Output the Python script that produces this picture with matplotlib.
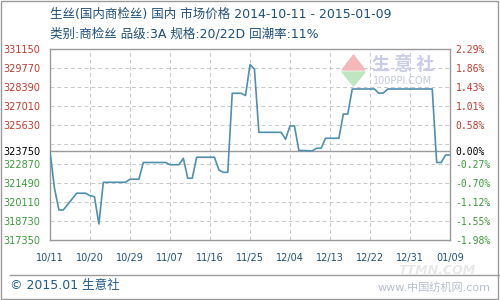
import numpy as np
import pandas as pd
import matplotlib
matplotlib.use('Agg')
import matplotlib.pyplot as plt
from matplotlib.patches import Polygon, Rectangle
from matplotlib.lines import Line2D

plt.rcParams['font.family'] = ['DejaVu Sans', 'Noto Sans CJK SC']

# 价格数据
dates = ['2014-10-11', '2014-10-12', '2014-10-13', '2014-10-14', '2014-10-17', '2014-10-19',
         '2014-10-20', '2014-10-21', '2014-10-22', '2014-10-23', '2014-10-28', '2014-10-29',
         '2014-10-31', '2014-11-01', '2014-11-06', '2014-11-07', '2014-11-09', '2014-11-10',
         '2014-11-11', '2014-11-12', '2014-11-13', '2014-11-17', '2014-11-18', '2014-11-19',
         '2014-11-20', '2014-11-21', '2014-11-23', '2014-11-24', '2014-11-25', '2014-11-26',
         '2014-11-27', '2014-12-02', '2014-12-03', '2014-12-04', '2014-12-05', '2014-12-06',
         '2014-12-09', '2014-12-10', '2014-12-11', '2014-12-12', '2014-12-15', '2014-12-16',
         '2014-12-17', '2014-12-18', '2014-12-23', '2014-12-24', '2014-12-25', '2014-12-26',
         '2015-01-05', '2015-01-06', '2015-01-07', '2015-01-08', '2015-01-09']
prices = [323750, 321100, 319520, 319520, 320730, 320730,
          320550, 320480, 318510, 321520, 321520, 321740,
          321740, 322950, 322950, 322790, 322790, 323250,
          321810, 321810, 323330, 323330, 322410, 322240,
          322240, 327950, 327950, 327790, 330020, 329700,
          325130, 325130, 324630, 325590, 325590, 323820,
          323790, 323980, 323980, 324700, 324700, 326450,
          326450, 328260, 328260, 327950, 327970, 328260,
          328260, 322950, 322950, 323490, 323490]

base = 323750
y_ticks = [331150, 329770, 328390, 327010, 325630, 323750, 322870, 321490, 320110, 318730, 317350]
x_ticks = ['2014-10-11', '2014-10-20', '2014-10-29', '2014-11-07', '2014-11-16', '2014-11-25',
           '2014-12-04', '2014-12-13', '2014-12-22', '2014-12-31', '2015-01-09']

title1 = '生丝(国内商检丝) 国内 市场价格 2014-10-11 - 2015-01-09'
title2 = '类别:商检丝 品级:3A 规格:20/22D 回潮率:11%'
footer = '© 2015.01 生意社'

RED = '#c0392b'
GREEN = '#3c9a3c'
BLUE_T = '#1f4f78'

d = pd.to_datetime(dates)
xt = pd.to_datetime(x_ticks)

fig = plt.figure(figsize=(5, 3), dpi=100)
ax = fig.add_axes([0.1, 0.2, 0.8, 0.6367])

ymin, ymax = min(y_ticks), max(y_ticks)
ax.set_ylim(ymin, ymax)
ax.set_xlim(xt[0], xt[-1])

# 网格
for g in np.arange(ymin, ymax + 1, 1380):
    ax.axhline(g, color='#c8c8c8', lw=0.7, dashes=(4, 3), zorder=1)
for t in xt:
    ax.axvline(t, color='#c8c8c8', lw=0.7, dashes=(4, 3), zorder=1)
ax.axhline(base, color='#9a9a9a', lw=1.0, zorder=2)

ax.plot(d, prices, color='#4f8fb0', lw=1.2, zorder=3)

for s in ax.spines.values():
    s.set_color('#9a9a9a')
    s.set_linewidth(1.0)

ax.set_xticks(xt)
ax.set_xticklabels([t.strftime('%m/%d') for t in xt], fontsize=7, color=BLUE_T)
ax.tick_params(axis='x', length=0, pad=9)

ax.set_yticks(y_ticks)
ax.set_yticklabels([str(v) for v in y_ticks], fontsize=7)
ax.tick_params(axis='y', length=0, pad=7)
for lab, v in zip(ax.get_yticklabels(), y_ticks):
    lab.set_color(RED if v > base else (GREEN if v < base else 'black'))

ax2 = ax.twinx()
ax2.set_ylim(ymin, ymax)
ax2.set_yticks(y_ticks)
ax2.set_yticklabels(['%.2f%%' % ((v / base - 1) * 100) for v in y_ticks],
                    fontsize=7, family='DejaVu Sans Mono')
ax2.tick_params(axis='y', length=0, pad=4)
for lab, v in zip(ax2.get_yticklabels(), y_ticks):
    lab.set_color(RED if v > base else (GREEN if v < base else 'black'))
for s in ax2.spines.values():
    s.set_visible(False)

# 标题
fig.text(0.1, 1 - 14 / 300, title1, fontsize=9, color=BLUE_T, va='center', ha='left')
fig.text(0.1, 1 - 34 / 300, title2, fontsize=9, color=BLUE_T, va='center', ha='left')

# 水印
fig.patches.append(Polygon([[342 / 500, 1 - 70 / 300], [365 / 500, 1 - 70 / 300], [353.5 / 500, 1 - 55 / 300]],
                           closed=True, transform=fig.transFigure, color='#f3b9b9', zorder=0))
fig.patches.append(Polygon([[342 / 500, 1 - 72 / 300], [365 / 500, 1 - 72 / 300], [353.5 / 500, 1 - 86 / 300]],
                           closed=True, transform=fig.transFigure, color='#bfe6bf', zorder=0))
fig.text(403 / 500, 1 - 64 / 300, '生 意 社', fontsize=13, color='#c9cde9', ha='center', va='center',
         fontweight='bold', family=['Noto Sans CJK SC'])
fig.text(403 / 500, 1 - 81 / 300, '100PPI.COM', fontsize=7, color='#c4c8d8', ha='center', va='center')

# 底部
fig.lines.append(Line2D([10 / 500, 1], [1 - 275 / 300, 1 - 275 / 300], transform=fig.transFigure,
                        color='#9a9a9a', lw=1.0))
fig.text(10 / 500, 1 - 286 / 300, footer, fontsize=9, color='#1f5a8a', va='center', ha='left')
fig.text(437 / 500, 1 - 271 / 300, 'TTMN.COM', fontsize=9, color='#e8e8e8', ha='center', va='center',
         fontweight='bold', style='italic')
fig.text(434 / 500, 1 - 287 / 300, 'www.中国纺机网.com', fontsize=8, color='#b8c0ce', ha='center', va='center')

fig.patches.append(Rectangle((0.002, 0.003), 0.994, 0.994, transform=fig.transFigure,
                             fill=False, edgecolor='#9a9a9a', lw=1.0))

fig.savefig('out.png', dpi=100)
